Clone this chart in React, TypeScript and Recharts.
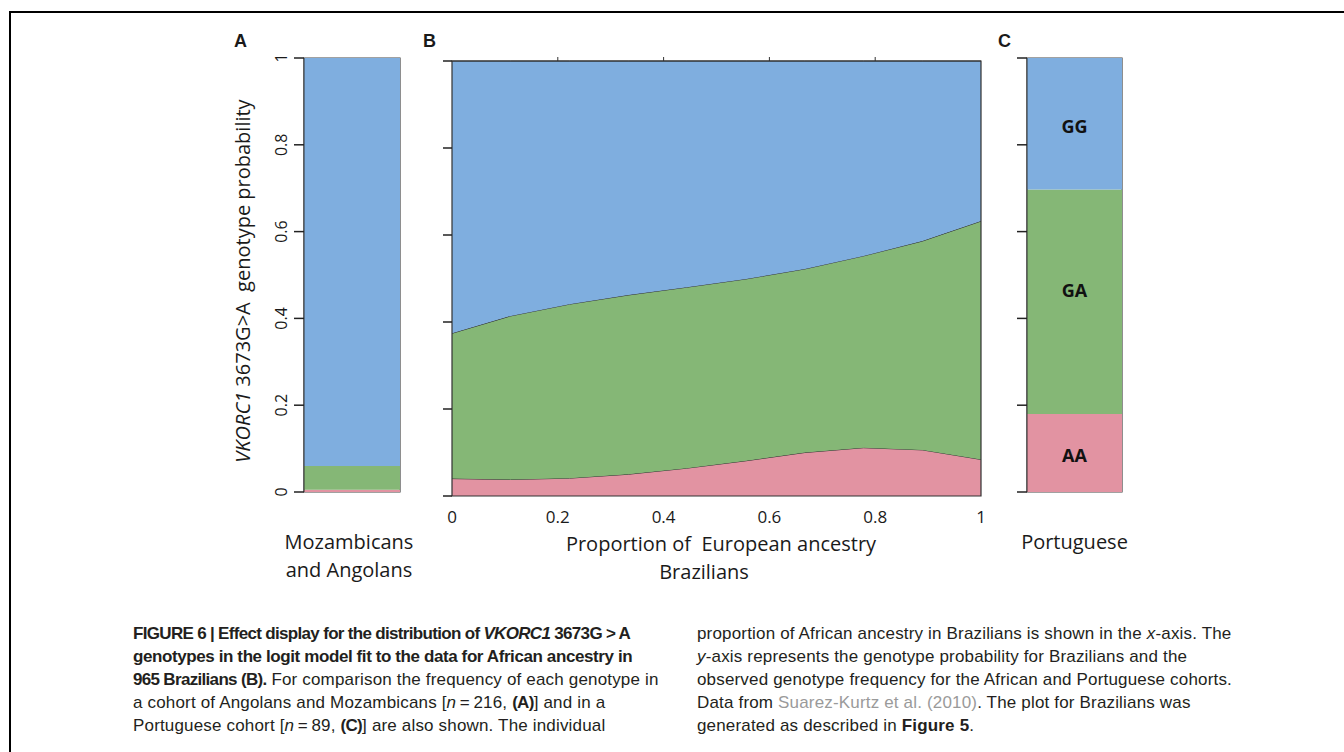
import React from "react";
import { Area, AreaChart, Bar, BarChart, LabelList, ReferenceArea, XAxis, YAxis } from "recharts";

// genotype order bottom -> top
const genotypes = ["AA", "GA", "GG"];
const genotypeColors = ["#e293a2", "#85b776", "#7faedf"];

// A: observed frequencies, Angolans and Mozambicans (n = 216)
const africanCohort = ["Mozambicans\nand Angolans"];
const africanAA = [0.005];
const africanGA = [0.055];
const africanGG = [0.94];

// B: effect display for 965 Brazilians
const ancestry = [0, 0.111, 0.222, 0.333, 0.444, 0.556, 0.667, 0.778, 0.889, 1];
const brazilAA = [0.04, 0.038, 0.041, 0.05, 0.064, 0.081, 0.1, 0.111, 0.106, 0.084];
const brazilGA = [0.334, 0.376, 0.4, 0.412, 0.416, 0.418, 0.422, 0.441, 0.48, 0.548];
const brazilGG = [0.626, 0.586, 0.559, 0.538, 0.52, 0.501, 0.478, 0.448, 0.414, 0.368];

// C: observed frequencies, Portuguese (n = 89)
const portugueseCohort = ["Portuguese"];
const portugueseAA = [0.18];
const portugueseGA = [0.517];
const portugueseGG = [0.303];

const probTicks = [0, 0.2, 0.4, 0.6, 0.8, 1];
const ancestryTicks = [0, 0.2, 0.4, 0.6, 0.8, 1];
const innerTicks = [0.2, 0.4, 0.6, 0.8];

const chartFont = "'Open Sans', 'Noto Sans', sans-serif";
const captionFont = "'Liberation Sans', Arial, sans-serif";
const ink = "#1a1a1a";

const africanData = africanCohort.map((name, i) => ({
  name,
  AA: africanAA[i],
  GA: africanGA[i],
  GG: africanGG[i],
}));
const brazilData = ancestry.map((x, i) => ({
  x,
  AA: brazilAA[i],
  GA: brazilGA[i],
  GG: brazilGG[i],
}));
const portugueseData = portugueseCohort.map((name, i) => ({
  name,
  AA: portugueseAA[i],
  GA: portugueseGA[i],
  GG: portugueseGG[i],
}));

function EmptyTick() {
  return <g />;
}

function RotatedTick({ x, y, payload }: any) {
  const tx = x - 7;
  return (
    <text x={tx} y={y} transform={`rotate(-90 ${tx} ${y})`} textAnchor="middle" fontSize={16} fill={ink}>
      {payload.value}
    </text>
  );
}

function CohortTick({ x, y, payload }: any) {
  const lines = String(payload.value).split("\n");
  return (
    <g>
      {lines.map((line, i) => (
        <text key={i} x={x - 3} y={y + 57 + i * 28} textAnchor="middle" fontSize={20} fill={ink}>
          {line}
        </text>
      ))}
    </g>
  );
}

function AncestryTick({ x, y, payload }: any) {
  return (
    <text x={x} y={y + 27} textAnchor="middle" fontSize={17} fill={ink}>
      {payload.value}
    </text>
  );
}

// the Portuguese labels sit a bit above the middle of the GA block in the original
function GenotypeLabel({ x, y, width, height, name }: any) {
  const shift = name === "GA" ? -12 : 2;
  return (
    <text
      x={x + width / 2}
      y={y + height / 2 + shift}
      textAnchor="middle"
      dominantBaseline="central"
      fontSize={18}
      fontWeight="bold"
      fill="#111"
    >
      {name}
    </text>
  );
}

const pos = (left: number, top: number): React.CSSProperties => ({ position: "absolute", left, top });

const captionStyle: React.CSSProperties = {
  fontFamily: captionFont,
  fontSize: 17,
  lineHeight: "23px",
  letterSpacing: "0.17px",
  color: "#231f20",
  whiteSpace: "nowrap",
};
const boldTight: React.CSSProperties = { fontWeight: "bold", letterSpacing: "-0.68px" };
const boldLoose: React.CSSProperties = { fontWeight: "bold", letterSpacing: "-0.4px" };

export default function App() {
  return (
    <div
      style={{
        position: "absolute",
        left: 0,
        top: 0,
        width: 1344,
        height: 752,
        background: "#fff",
        overflow: "hidden",
        fontFamily: chartFont,
        color: ink,
      }}
    >
      {/* page frame */}
      <div
        style={{
          position: "absolute",
          left: 9,
          top: 11,
          width: 1340,
          height: 745,
          borderTop: "2px solid #000",
          borderLeft: "2px solid #000",
        }}
      />

      {/* panel letters */}
      {[
        ["A", 234],
        ["B", 423],
        ["C", 998],
      ].map(([letter, left]) => (
        <div
          key={letter as string}
          style={{
            ...pos(left as number, 31),
            fontFamily: "'Liberation Sans', Arial, sans-serif",
            fontWeight: "bold",
            fontSize: 18,
          }}
        >
          {letter}
        </div>
      ))}

      {/* y axis title */}
      <div
        style={{
          ...pos(242, 281),
          transform: "translate(-50%, -50%) rotate(-90deg)",
          whiteSpace: "pre",
          fontSize: 20,
        }}
      >
        <i>VKORC1</i> 3673G&gt;A  genotype probability
      </div>

      {/* A */}
      <div style={pos(250, 40)}>
        <BarChart
          width={190}
          height={560}
          data={africanData}
          margin={{ top: 18, right: 40, bottom: 0, left: 0 }}
          barCategoryGap={0}
        >
          <XAxis
            dataKey="name"
            height={108}
            axisLine={false}
            tickLine={false}
            tickSize={0}
            tickMargin={0}
            interval={0}
            tick={CohortTick}
          />
          <YAxis
            type="number"
            domain={[0, 1]}
            ticks={probTicks}
            width={54}
            axisLine={{ stroke: "#333" }}
            tickLine={{ stroke: "#222", strokeWidth: 1.5 }}
            tickSize={10}
            tickMargin={0}
            tick={RotatedTick}
          />
          {genotypes.map((g, i) => (
            <Bar key={g} dataKey={g} stackId="a" fill={genotypeColors[i]} isAnimationActive={false} />
          ))}
          <ReferenceArea y1={0} y2={1} fill="none" stroke="#444" strokeWidth={1.2} ifOverflow="visible" />
        </BarChart>
      </div>

      {/* B */}
      <div style={pos(380, 40)}>
        <AreaChart width={620} height={560} data={brazilData} margin={{ top: 11, right: 9, bottom: 0, left: 0 }}>
          <XAxis
            xAxisId="bottom"
            dataKey="x"
            type="number"
            domain={[0, 1]}
            ticks={ancestryTicks}
            height={104}
            axisLine={false}
            tickLine={false}
            tickSize={0}
            tickMargin={0}
            tick={AncestryTick}
          />
          <XAxis
            xAxisId="top"
            orientation="top"
            dataKey="x"
            type="number"
            domain={[0, 1]}
            ticks={innerTicks}
            height={10}
            axisLine={false}
            tickLine={{ stroke: "#333" }}
            tickSize={4}
            tick={EmptyTick}
          />
          <YAxis
            yAxisId="left"
            type="number"
            domain={[0, 1]}
            ticks={probTicks}
            width={72}
            axisLine={false}
            tickLine={{ stroke: "#222", strokeWidth: 1.5 }}
            tickSize={9}
            tick={EmptyTick}
          />
          <YAxis
            yAxisId="right"
            orientation="right"
            type="number"
            domain={[0, 1]}
            ticks={innerTicks}
            width={10}
            axisLine={false}
            tickLine={{ stroke: "#333" }}
            tickSize={3}
            tick={EmptyTick}
          />
          {genotypes.map((g, i) => (
            <Area
              key={g}
              xAxisId="bottom"
              yAxisId="left"
              type="linear"
              dataKey={g}
              stackId="b"
              fill={genotypeColors[i]}
              fillOpacity={1}
              stroke="#2b2b2b"
              strokeWidth={1}
              dot={false}
              activeDot={false}
              isAnimationActive={false}
            />
          ))}
          <ReferenceArea
            xAxisId="bottom"
            yAxisId="left"
            x1={0}
            x2={1}
            y1={0}
            y2={1}
            fill="none"
            stroke="#333"
            strokeWidth={1.2}
            ifOverflow="visible"
          />
        </AreaChart>
      </div>

      {/* B axis titles */}
      <div style={{ ...pos(721, 543), transform: "translate(-50%, -50%)", whiteSpace: "pre", fontSize: 20 }}>
        Proportion of  European ancestry
      </div>
      <div style={{ ...pos(704, 571), transform: "translate(-50%, -50%)", whiteSpace: "pre", fontSize: 20 }}>
        Brazilians
      </div>

      {/* C */}
      <div style={pos(970, 40)}>
        <BarChart
          width={200}
          height={560}
          data={portugueseData}
          margin={{ top: 18, right: 48, bottom: 0, left: 0 }}
          barCategoryGap={0}
        >
          <XAxis
            dataKey="name"
            height={108}
            axisLine={false}
            tickLine={false}
            tickSize={0}
            tickMargin={0}
            interval={0}
            tick={(p: any) => <CohortTick {...p} x={p.x + 3} />}
          />
          <YAxis
            type="number"
            domain={[0, 1]}
            ticks={probTicks}
            width={57}
            axisLine={{ stroke: "#333" }}
            tickLine={{ stroke: "#222", strokeWidth: 1.5 }}
            tickSize={10}
            tick={EmptyTick}
          />
          {genotypes.map((g, i) => (
            <Bar key={g} dataKey={g} stackId="c" fill={genotypeColors[i]} isAnimationActive={false}>
              <LabelList dataKey={g} content={(p: any) => <GenotypeLabel {...p} name={g} />} />
            </Bar>
          ))}
          <ReferenceArea y1={0} y2={1} fill="none" stroke="#444" strokeWidth={1.2} ifOverflow="visible" />
        </BarChart>
      </div>

      {/* caption */}
      <div style={{ ...pos(133, 622), ...captionStyle }}>
        <span style={boldTight}>
          FIGURE 6 | Effect display for the distribution of <i>VKORC1</i> 3673G &gt; A
        </span>
        <br />
        <span style={boldLoose}>genotypes in the logit model fit to the data for African ancestry in</span>
        <br />
        <span style={boldTight}>965 Brazilians (B).</span> For comparison the frequency of each genotype in
        <br />a cohort of Angolans and Mozambicans [<i>n</i>{"\u2009=\u2009"}216, <span style={boldTight}>(A)</span>] and in a
        <br />
        Portuguese cohort [<i>n</i>{"\u2009=\u2009"}89, <span style={boldTight}>(C)</span>] are also shown. The individual
      </div>
      <div style={{ ...pos(697, 622), ...captionStyle }}>
        proportion of African ancestry in Brazilians is shown in the <i>x</i>-axis. The
        <br />
        <i>y</i>-axis represents the genotype probability for Brazilians and the
        <br />
        observed genotype frequency for the African and Portuguese cohorts.
        <br />
        Data from <span style={{ color: "#9a9a9a" }}>Suarez-Kurtz et al. (2010)</span>. The plot for Brazilians was
        <br />
        generated as described in <span style={{ fontWeight: "bold" }}>Figure 5</span>.
      </div>
    </div>
  );
}
